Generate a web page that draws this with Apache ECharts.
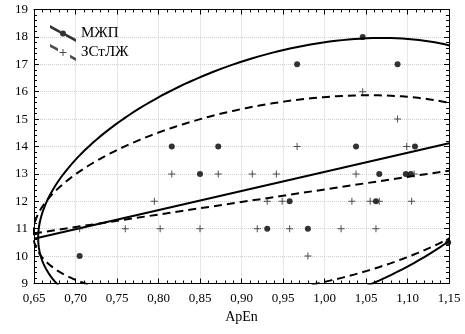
<!DOCTYPE html>
<html>
<head>
<meta charset="utf-8">
<script src="https://cdn.jsdelivr.net/npm/echarts@6/dist/echarts.min.js"></script>
<style>
  html, body { margin: 0; padding: 0; background: #fff; }
  #chart { width: 465px; height: 334px; }
</style>
</head>
<body>
<div id="chart"></div>
<script>
// МЖП points
const mzhpX = [0.816, 0.872, 1.046, 0.967, 1.088, 1.038, 1.109, 0.850, 0.705, 1.066, 1.098, 1.104, 0.958, 1.062, 0.931, 0.980, 1.149];
const mzhpY = [14, 14, 18, 17, 17, 14, 14, 13, 10, 13, 13, 13, 12, 12, 11, 11, 10.5];
// ЗСтЛЖ points
const zstX = [1.046, 1.088, 0.967, 1.099, 0.816, 0.872, 0.913, 0.942, 1.038, 1.108, 0.795, 0.931, 0.949, 1.033, 1.055, 1.066, 1.105, 0.705, 0.760, 0.802, 0.850, 0.919, 0.958, 1.020, 1.062, 0.980];
const zstY = [16, 15, 14, 14, 13, 13, 13, 13, 13, 13, 12, 12, 12, 12, 12, 12, 12, 11, 11, 11, 11, 11, 11, 11, 11, 10];
// ellipse / regression stats: mean x, mean y, k*sd x, k*sd y, r
const mzhpStats = [0.952, 12.74, 0.297, 5.22, 0.397];
const zstStats = [0.945, 12.18, 0.296, 3.69, 0.367];

const xMin = 0.65, xMax = 1.15, xStep = 0.05;
const yMin = 9, yMax = 19, yStep = 1;

const serif = 'Liberation Serif';
const plusIcon = 'path://M3,0L4,0L4,3L7,3L7,4L4,4L4,7L3,7L3,4L0,4L0,3L3,3Z';
// diagonal legend icons (line + marker)
const solidIcon = 'path://M0,0L10.5,5.65L10.5,8.65L0,3Z M15.5,8.35L26,14L26,17L15.5,11.35Z ' +
  'M16,8.5A3,3 0 1 1 10,8.5A3,3 0 1 1 16,8.5Z';
const dashIcon = 'path://M0,0L8,4.3L8,7.3L0,3Z M20,10.77L26,14L26,17L20,13.77Z ' +
  'M12.5,5L13.5,5L13.5,8L16.5,8L16.5,9L13.5,9L13.5,12L12.5,12L12.5,9L9.5,9L9.5,8L12.5,8Z';

function zip(xs, ys) {
  return xs.map((x, i) => [x, ys[i]]);
}

function ellipse(s) {
  const [mx, my, sx, sy, r] = s;
  const q = Math.sqrt(1 - r * r);
  const pts = [];
  for (let i = 0; i <= 240; i++) {
    const t = i / 240 * 2 * Math.PI;
    pts.push([mx + sx * Math.cos(t), my + sy * (r * Math.cos(t) + q * Math.sin(t))]);
  }
  return pts;
}

function regression(s) {
  const [mx, my, sx, sy, r] = s;
  const b = r * sy / sx;
  return [[xMin, my + b * (xMin - mx)], [xMax, my + b * (xMax - mx)]];
}

const chart = echarts.init(document.getElementById('chart'));

const tickStyle = { inside: true, length: 5, lineStyle: { color: '#000' } };
const minorStyle = { show: true, splitNumber: 5, length: 3, lineStyle: { color: '#000' } };
const lineAx = { show: true, lineStyle: { color: '#000', width: 1 } };

function lineSeries(name, data, dashed) {
  return {
    name: name,
    type: 'line',
    data: data,
    showSymbol: false,
    symbol: 'none',
    silent: true,
    z: 2,
    itemStyle: { color: '#000' },
    lineStyle: { color: '#000', width: 2, type: dashed ? [8, 5] : 'solid' }
  };
}

chart.setOption({
  animation: false,
  grid: { left: 34, right: 16, top: 9.5, bottom: 50.5 },
  legend: {
    orient: 'vertical',
    left: 45,
    top: 20,
    itemWidth: 26,
    itemHeight: 17,
    itemGap: 2,
    textStyle: { fontFamily: serif, fontSize: 15, color: '#000' },
    data: [
      { name: 'МЖП', icon: solidIcon },
      { name: 'ЗСтЛЖ', icon: dashIcon }
    ]
  },
  xAxis: [{
    type: 'value', min: xMin, max: xMax, interval: xStep,
    name: 'ApEn', nameLocation: 'middle', nameGap: 26,
    nameTextStyle: { fontFamily: serif, fontSize: 14, color: '#000' },
    axisLine: lineAx, axisTick: tickStyle, minorTick: minorStyle,
    axisLabel: {
      fontFamily: serif, fontSize: 13, color: '#000', margin: 9,
      formatter: v => v.toFixed(2).replace('.', ',')
    },
    splitLine: { show: true, lineStyle: { color: '#cfcfcf', type: 'dotted' } }
  }, {
    type: 'value', position: 'top', min: xMin, max: xMax, interval: xStep,
    axisLine: lineAx, axisTick: tickStyle, minorTick: minorStyle,
    axisLabel: { show: false }, splitLine: { show: false }
  }],
  yAxis: [{
    type: 'value', min: yMin, max: yMax, interval: yStep,
    axisLine: lineAx, axisTick: tickStyle, minorTick: minorStyle,
    axisLabel: { fontFamily: serif, fontSize: 13, color: '#000', margin: 6 },
    splitLine: { show: true, lineStyle: { color: '#cfcfcf', type: 'dotted' } }
  }, {
    type: 'value', position: 'right', min: yMin, max: yMax, interval: yStep,
    axisLine: lineAx, axisTick: tickStyle, minorTick: minorStyle,
    axisLabel: { show: false }, splitLine: { show: false }
  }],
  series: [
    {
      name: 'МЖП', type: 'scatter', data: zip(mzhpX, mzhpY),
      symbol: 'circle', symbolSize: 6, z: 5,
      itemStyle: { color: '#000' }
    },
    {
      name: 'ЗСтЛЖ', type: 'scatter', data: zip(zstX, zstY),
      symbol: plusIcon, symbolSize: 7, z: 5,
      itemStyle: { color: '#222' }
    },
    lineSeries('МЖП', ellipse(mzhpStats), false),
    lineSeries('МЖП', regression(mzhpStats), false),
    lineSeries('ЗСтЛЖ', ellipse(zstStats), true),
    lineSeries('ЗСтЛЖ', regression(zstStats), true)
  ]
});
</script>
</body>
</html>
